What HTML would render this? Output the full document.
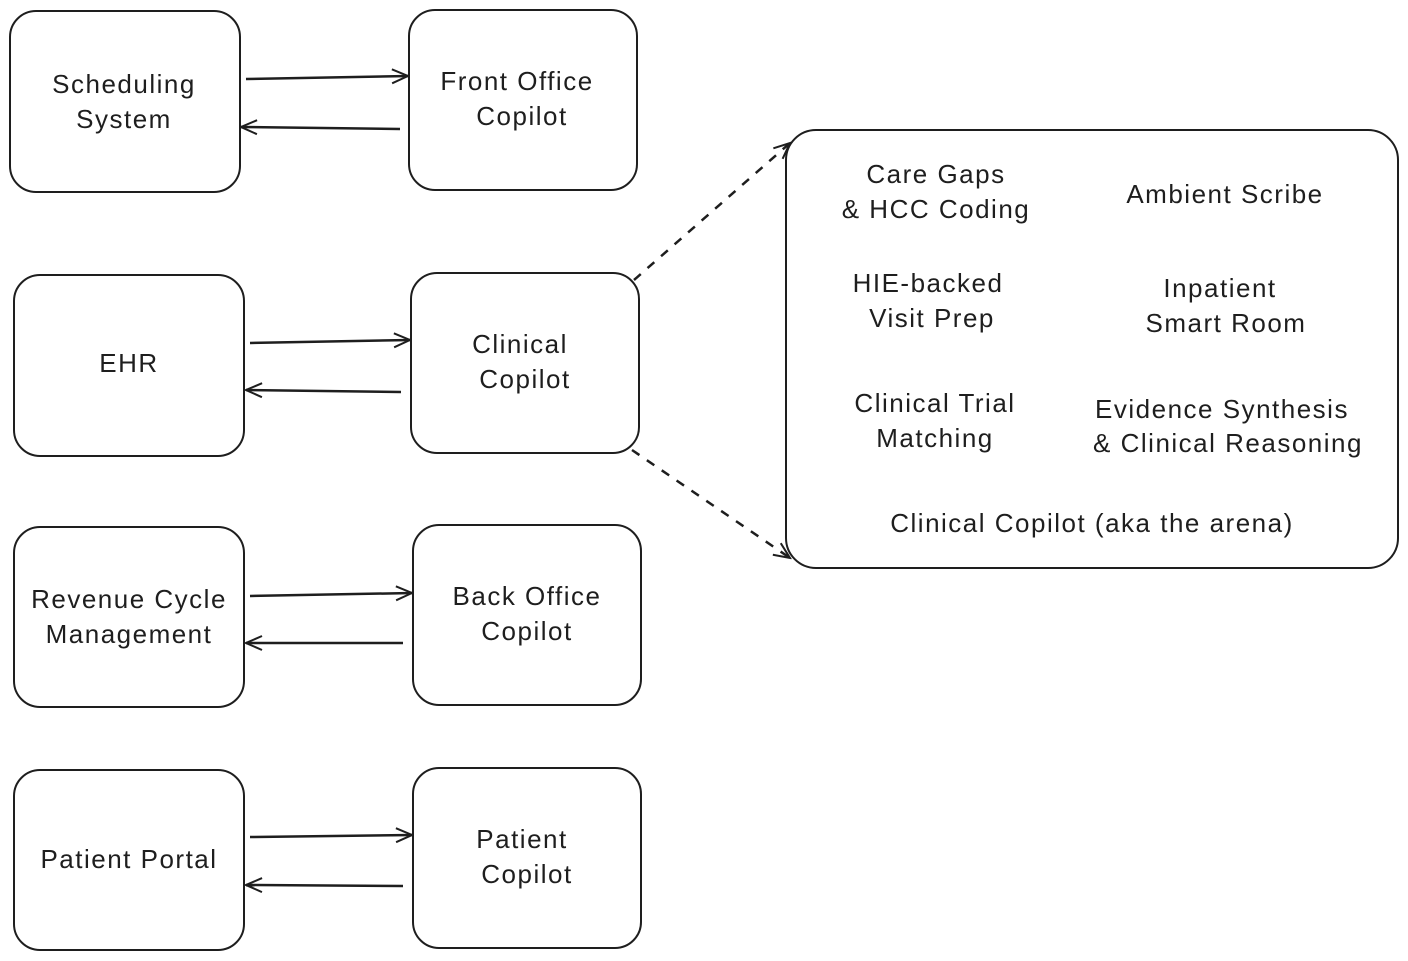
<!DOCTYPE html>
<html><head><meta charset="utf-8"><style>
html,body{margin:0;padding:0;background:#fff;}
svg{display:block;}
text{font-family:"Liberation Sans",sans-serif;font-size:26px;letter-spacing:1.5px;fill:#1e1e1e;text-anchor:middle;}
</style></head><body>
<svg width="1408" height="961" viewBox="0 0 1408 961" xmlns="http://www.w3.org/2000/svg">
<defs>
<marker id="a" markerWidth="20" markerHeight="20" refX="18" refY="10" orient="auto" markerUnits="userSpaceOnUse">
<path d="M2,3 L18,10 L2,17" fill="none" stroke="#1e1e1e" stroke-width="2"/>
</marker>
</defs>
<g fill="none" stroke="#1e1e1e" stroke-width="2">
<rect x="10" y="11" width="230" height="181" rx="26"/>
<rect x="409" y="10" width="228" height="180" rx="26"/>
<rect x="14" y="275" width="230" height="181" rx="26"/>
<rect x="411" y="273" width="228" height="180" rx="26"/>
<rect x="14" y="527" width="230" height="180" rx="26"/>
<rect x="413" y="525" width="228" height="180" rx="26"/>
<rect x="14" y="770" width="230" height="180" rx="26"/>
<rect x="413" y="768" width="228" height="180" rx="26"/>
<rect x="786" y="130" width="612" height="438" rx="30"/>
<g stroke-width="2.5">
<line x1="246" y1="79" x2="408" y2="76" marker-end="url(#a)"/>
<line x1="400" y1="129" x2="241" y2="127" marker-end="url(#a)"/>
<line x1="250" y1="343" x2="410" y2="340" marker-end="url(#a)"/>
<line x1="401" y1="392" x2="246" y2="390" marker-end="url(#a)"/>
<line x1="250" y1="596" x2="412" y2="593" marker-end="url(#a)"/>
<line x1="403" y1="643" x2="246" y2="643" marker-end="url(#a)"/>
<line x1="250" y1="837" x2="412" y2="835" marker-end="url(#a)"/>
<line x1="403" y1="886" x2="246" y2="885" marker-end="url(#a)"/>
<line x1="634" y1="280" x2="790" y2="143" stroke-dasharray="9,9" marker-end="url(#a)"/>
<line x1="632" y1="450" x2="790" y2="558" stroke-dasharray="9,9" marker-end="url(#a)"/>
</g>
</g>
<text x="124" y="93">Scheduling</text><text x="124" y="128">System</text>
<text x="517" y="90">Front Office</text><text x="522" y="125">Copilot</text>
<text x="129" y="372">EHR</text>
<text x="520" y="353">Clinical</text><text x="525" y="388">Copilot</text>
<text x="129" y="608">Revenue Cycle</text><text x="129" y="643">Management</text>
<text x="527" y="605">Back Office</text><text x="527" y="640">Copilot</text>
<text x="129" y="868">Patient Portal</text>
<text x="522" y="848">Patient</text><text x="527" y="883">Copilot</text>
<text x="936" y="183">Care Gaps</text><text x="936" y="218">&amp; HCC Coding</text>
<text x="1225" y="203">Ambient Scribe</text>
<text x="928" y="292">HIE-backed</text><text x="932" y="327">Visit Prep</text>
<text x="1220" y="297">Inpatient</text><text x="1226" y="332">Smart Room</text>
<text x="935" y="412">Clinical Trial</text><text x="935" y="447">Matching</text>
<text x="1222" y="418">Evidence Synthesis</text><text x="1228" y="452">&amp; Clinical Reasoning</text>
<text x="1092" y="532">Clinical Copilot (aka the arena)</text>
</svg>
</body></html>
